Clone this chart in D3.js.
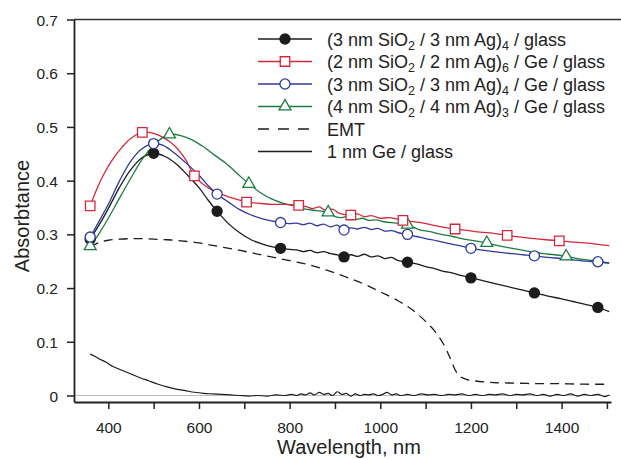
<!DOCTYPE html>
<html>
<head>
<meta charset="utf-8">
<script src="https://cdn.jsdelivr.net/npm/d3@7"></script>
<style>
  html, body { margin: 0; padding: 0; background: #fff; }
  svg { display: block; font-family: "Liberation Sans", Arial, Helvetica, sans-serif; }
</style>
</head>
<body>
<svg id="chart" width="621" height="459"></svg>
<script>
// Absorbtance spectra: [wavelength (nm), absorbtance]
const agGlass = [
  [360,0.291],[380,0.318],[400,0.348],[425,0.388],[450,0.421],[475,0.443],[500,0.451],
  [525,0.445],[550,0.431],[575,0.410],[600,0.387],[620,0.364],[640,0.343],[665,0.320],
  [690,0.303],[715,0.290],[740,0.282],[760,0.277],[780,0.274],[800,0.272],[815,0.271],
  [830,0.268],[845,0.270],[860,0.266],[875,0.268],[890,0.264],[905,0.262],[920,0.258],
  [935,0.262],[950,0.259],[965,0.263],[980,0.258],[995,0.260],[1010,0.255],[1025,0.257],
  [1040,0.251],[1060,0.248],[1080,0.245],[1100,0.240],[1120,0.236],[1140,0.231],
  [1160,0.228],[1180,0.223],[1200,0.219],[1230,0.213],[1260,0.207],[1290,0.201],
  [1315,0.196],[1340,0.191],[1370,0.185],[1400,0.180],[1425,0.175],[1450,0.170],
  [1480,0.164],[1505,0.156]
];
const ag6Ge = [
  [360,0.353],[375,0.385],[390,0.412],[410,0.440],[430,0.462],[450,0.479],[475,0.490],
  [500,0.488],[520,0.481],[545,0.466],[570,0.440],[590,0.409],[610,0.393],[630,0.382],
  [655,0.373],[680,0.366],[705,0.360],[730,0.358],[760,0.356],[790,0.356],[820,0.354],
  [835,0.352],[850,0.348],[865,0.351],[880,0.344],[895,0.347],[910,0.339],[935,0.336],
  [950,0.338],[965,0.333],[980,0.335],[1000,0.330],[1020,0.331],[1050,0.326],[1070,0.324],
  [1090,0.322],[1110,0.318],[1135,0.314],[1165,0.310],[1195,0.307],[1220,0.304],
  [1250,0.302],[1280,0.298],[1310,0.295],[1340,0.292],[1365,0.290],[1395,0.288],
  [1420,0.286],[1450,0.284],[1475,0.282],[1505,0.279]
];
const ag4Ge = [
  [360,0.295],[380,0.325],[400,0.356],[425,0.400],[450,0.437],[475,0.460],[500,0.469],
  [520,0.466],[545,0.452],[570,0.434],[600,0.410],[620,0.391],[640,0.375],[665,0.360],
  [690,0.346],[715,0.336],[740,0.329],[760,0.325],[780,0.322],[800,0.320],[815,0.321],
  [830,0.318],[845,0.321],[860,0.316],[875,0.319],[890,0.314],[905,0.317],[920,0.308],
  [935,0.312],[950,0.310],[965,0.313],[980,0.309],[995,0.311],[1010,0.306],[1025,0.307],
  [1040,0.303],[1060,0.300],[1080,0.296],[1100,0.292],[1125,0.288],[1150,0.283],
  [1175,0.279],[1200,0.274],[1230,0.270],[1260,0.267],[1290,0.264],[1315,0.262],
  [1340,0.260],[1370,0.257],[1400,0.255],[1430,0.252],[1455,0.250],[1480,0.249],[1505,0.247]
];
const ag3Ge = [
  [360,0.278],[380,0.302],[400,0.330],[425,0.368],[450,0.405],[475,0.440],[500,0.466],
  [520,0.480],[535,0.486],[560,0.484],[585,0.476],[610,0.463],[635,0.447],[660,0.432],
  [685,0.413],[710,0.394],[735,0.378],[760,0.366],[785,0.358],[810,0.353],[835,0.347],
  [860,0.344],[885,0.341],[900,0.333],[915,0.331],[930,0.334],[945,0.328],[960,0.330],
  [975,0.326],[990,0.327],[1010,0.323],[1035,0.321],[1060,0.318],[1085,0.309],[1110,0.305],
  [1135,0.300],[1160,0.296],[1185,0.291],[1210,0.288],[1235,0.284],[1260,0.279],
  [1285,0.275],[1310,0.271],[1335,0.267],[1360,0.264],[1385,0.262],[1410,0.259],
  [1435,0.255],[1460,0.252],[1485,0.249],[1505,0.246]
];
const emt = [
  [360,0.276],[380,0.285],[400,0.289],[425,0.291],[450,0.292],[475,0.292],[500,0.291],
  [530,0.290],[560,0.288],[600,0.284],[640,0.278],[680,0.272],[720,0.265],[760,0.258],
  [800,0.251],[840,0.244],[880,0.234],[920,0.222],[960,0.209],[1000,0.193],[1040,0.176],
  [1070,0.160],[1100,0.138],[1120,0.120],[1140,0.095],[1155,0.068],[1165,0.048],
  [1175,0.036],[1190,0.030],[1210,0.027],[1250,0.024],[1300,0.023],[1350,0.022],
  [1400,0.022],[1450,0.021],[1505,0.021]
];
const geGlass = [
  [360,0.077],[370,0.073],[380,0.068],[395,0.062],[410,0.054],[430,0.047],[450,0.040],
  [470,0.033],[490,0.027],[510,0.021],[530,0.016],[550,0.012],[570,0.009],[590,0.006],
  [610,0.004],[630,0.003],[650,0.002],[670,0.001],[690,0.000],[710,-0.001],[730,0.000],
  [750,-0.001],[770,0.001],[790,0.000],[805,0.002],[815,0.000],[825,0.003],[835,0.001],
  [845,0.005],[855,0.001],[865,0.006],[875,0.002],[885,0.004],[895,0.000],[905,0.007],
  [915,0.002],[925,0.004],[935,-0.001],[945,0.003],[955,0.000],[965,0.002],[975,0.001],
  [985,0.003],[995,0.000],[1005,0.002],[1015,0.006],[1025,0.001],[1035,0.003],[1045,0.000],
  [1060,0.002],[1075,0.000],[1090,0.003],[1105,0.001],[1120,0.002],[1135,0.000],
  [1150,0.002],[1165,0.001],[1180,0.003],[1195,0.000],[1210,0.002],[1225,0.000],
  [1240,0.002],[1255,0.001],[1270,0.003],[1285,0.000],[1300,0.002],[1315,0.001],
  [1330,0.003],[1345,0.000],[1360,0.002],[1375,-0.001],[1390,0.002],[1405,0.000],
  [1420,0.003],[1435,-0.001],[1450,0.002],[1465,0.000],[1480,0.002],[1495,-0.002],[1505,0.001]
];

// Wavelengths where symbols are placed on each curve
const agGlassMarks = [360,500,640,780,920,1060,1200,1340,1480];
const ag6GeMarks   = [360,475,590,705,820,935,1050,1165,1280,1395];
const ag4GeMarks   = [360,500,640,780,920,1060,1200,1340,1480];
const ag3GeMarks   = [360,535,710,885,1060,1235,1410];

// Axis ticks
const xTicks = [400,500,600,700,800,900,1000,1100,1200,1300,1400,1500];
const xLabels = [400,600,800,1000,1200,1400];
const yTicks = [0,0.1,0.2,0.3,0.4,0.5,0.6,0.7];

const svg = d3.select("#chart");
const plotLeft = 74, plotRight = 611, plotTop = 19.5, plotBottom = 402;

const x = d3.scaleLinear().domain([324.3, 1509]).range([plotLeft, plotRight]);
const y = d3.scaleLinear().domain([-0.0121, 0.7]).range([plotBottom, plotTop]);

// zero reference line
svg.append("line")
  .attr("x1", plotLeft).attr("x2", plotRight)
  .attr("y1", y(0)).attr("y2", y(0))
  .attr("stroke", "#bdbdbd").attr("stroke-width", 1);

// top frame line
svg.append("line")
  .attr("x1", plotLeft).attr("x2", 621)
  .attr("y1", plotTop).attr("y2", plotTop)
  .attr("stroke", "#333").attr("stroke-width", 1.6);

// axes
const xAxis = svg.append("g")
  .attr("transform", `translate(0,${plotBottom})`)
  .call(d3.axisBottom(x).tickValues(xTicks).tickSize(7).tickSizeOuter(0)
    .tickFormat(d => xLabels.includes(d) ? d : ""));
const yAxis = svg.append("g")
  .attr("transform", `translate(${plotLeft},0)`)
  .call(d3.axisLeft(y).tickValues(yTicks).tickSize(7).tickSizeOuter(0)
    .tickFormat(d => d === 0 ? "0" : d3.format(".1f")(d)));

[xAxis, yAxis].forEach(g => {
  g.select(".domain").attr("stroke", "#222").attr("stroke-width", 1.8);
  g.selectAll(".tick line").attr("stroke", "#222").attr("stroke-width", 1.5);
  g.selectAll(".tick text")
    .attr("fill", "#222")
    .style("font-family", "'Liberation Sans', Arial, sans-serif")
    .style("font-size", "15.5px");
});
xAxis.selectAll(".tick text").attr("dy", null).attr("y", 31);
yAxis.selectAll(".tick text").attr("x", -16).attr("dy", "0.36em");

// axis titles
svg.append("text")
  .attr("x", 349).attr("y", 454)
  .attr("text-anchor", "middle")
  .attr("fill", "#222")
  .style("font-size", "20px")
  .text("Wavelength, nm");
svg.append("text")
  .attr("transform", "translate(29,216) rotate(-90)")
  .attr("text-anchor", "middle")
  .attr("fill", "#222")
  .style("font-size", "20px")
  .text("Absorbtance");

const line = d3.line()
  .x(d => x(d[0])).y(d => y(d[1]))
  .curve(d3.curveCatmullRom.alpha(0.5));

const colors = { black: "#1c1c1c", red: "#d4283c", blue: "#2e3a9c", green: "#1c7c40" };

// curves
svg.append("path").datum(geGlass).attr("d", line)
  .attr("fill", "none").attr("stroke", colors.black).attr("stroke-width", 1.2);
svg.append("path").datum(emt).attr("d", line)
  .attr("fill", "none").attr("stroke", colors.black).attr("stroke-width", 1.3)
  .attr("stroke-dasharray", "9,6");
svg.append("path").datum(agGlass).attr("d", line)
  .attr("fill", "none").attr("stroke", colors.black).attr("stroke-width", 1.3);
svg.append("path").datum(ag3Ge).attr("d", line)
  .attr("fill", "none").attr("stroke", colors.green).attr("stroke-width", 1.3);
svg.append("path").datum(ag6Ge).attr("d", line)
  .attr("fill", "none").attr("stroke", colors.red).attr("stroke-width", 1.3);
svg.append("path").datum(ag4Ge).attr("d", line)
  .attr("fill", "none").attr("stroke", colors.blue).attr("stroke-width", 1.3);

function pick(series, marks) {
  return marks.map(w => series.find(d => d[0] === w));
}

const sym = {
  circle: d3.symbol().type(d3.symbolCircle).size(80)(),
  square: d3.symbol().type(d3.symbolSquare).size(90)(),
  triangle: d3.symbol().type(d3.symbolTriangle).size(62)()
};

function drawMarks(pts, shape, stroke, fill) {
  svg.append("g").selectAll("path").data(pts).join("path")
    .attr("transform", d => `translate(${x(d[0])},${y(d[1])})`)
    .attr("d", sym[shape])
    .attr("fill", fill).attr("stroke", stroke).attr("stroke-width", 1.3);
}

drawMarks(pick(agGlass, agGlassMarks), "circle", colors.black, colors.black);
drawMarks(pick(ag3Ge, ag3GeMarks), "triangle", colors.green, "#fff");
drawMarks(pick(ag6Ge, ag6GeMarks), "square", colors.red, "#fff");
drawMarks(pick(ag4Ge, ag4GeMarks), "circle", colors.blue, "#fff");

// legend
const legend = [
  { parts: [["(3 nm SiO"],["2","sub"],[" / 3 nm Ag)"],["4","sub"],[" / glass"]], color: colors.black, shape: "circle", fill: colors.black },
  { parts: [["(2 nm SiO"],["2","sub"],[" / 2 nm Ag)"],["6","sub"],[" / Ge / glass"]], color: colors.red, shape: "square", fill: "#fff" },
  { parts: [["(3 nm SiO"],["2","sub"],[" / 3 nm Ag)"],["4","sub"],[" / Ge / glass"]], color: colors.blue, shape: "circle", fill: "#fff" },
  { parts: [["(4 nm SiO"],["2","sub"],[" / 4 nm Ag)"],["3","sub"],[" / Ge / glass"]], color: colors.green, shape: "triangle", fill: "#fff" },
  { parts: [["EMT"]], color: colors.black, dash: "11,9" },
  { parts: [["1 nm Ge / glass"]], color: colors.black }
];
const legRowY = [39, 61.5, 84, 106.5, 129, 151.5];
legend.forEach((item, i) => {
  const g = svg.append("g").attr("transform", `translate(0,${legRowY[i]})`);
  g.append("line").attr("x1", 258).attr("x2", 312).attr("y1", 0).attr("y2", 0)
    .attr("stroke", item.color).attr("stroke-width", 1.3)
    .attr("stroke-dasharray", item.dash || null);
  if (item.shape) {
    g.append("path").attr("transform", "translate(285,0)")
      .attr("d", sym[item.shape]).attr("fill", item.fill)
      .attr("stroke", item.color).attr("stroke-width", 1.3);
  }
  const t = g.append("text").attr("x", 327).attr("y", 6.5)
    .attr("fill", "#222").style("font-size", "18px")
    .style("white-space", "pre").attr("xml:space", "preserve");
  item.parts.forEach((p, k) => {
    const ts = t.append("tspan").text(p[0]);
    if (p[1] === "sub") ts.attr("dy", 4).style("font-size", "12.5px");
    else if (k > 0) ts.attr("dy", -4);
  });
});
</script>
</body>
</html>
